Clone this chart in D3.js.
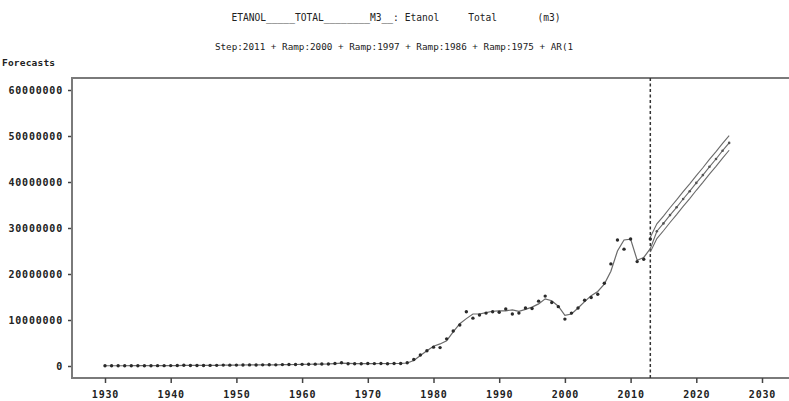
<!DOCTYPE html>
<html>
<head>
<meta charset="utf-8">
<script src="https://cdn.jsdelivr.net/npm/d3@7"></script>
<style>
  html, body { margin: 0; padding: 0; background: #fff; }
  svg { display: block; }
  text { font-family: "DejaVu Sans Mono", "Liberation Mono", monospace; fill: #222; white-space: pre; }
</style>
</head>
<body>
<svg id="chart" width="789" height="401"></svg>
<script>
// ---------- data (values in m3) ----------
const titleText = "ETANOL_____TOTAL________M3__: Etanol     Total       (m3)";
const subtitleText = "Step:2011 + Ramp:2000 + Ramp:1997 + Ramp:1986 + Ramp:1975 + AR(1";
const yAxisLabel = "Forecasts";

const years = d3.range(1930, 2014);
const actualM = [
  0.05,0.05,0.05,0.05,0.06,0.06,0.07,0.07,0.08,0.08,
  0.09,0.10,0.15,0.11,0.12,0.12,0.13,0.14,0.20,0.18,
  0.20,0.22,0.24,0.22,0.25,0.27,0.25,0.30,0.32,0.33,
  0.36,0.38,0.40,0.42,0.45,0.55,0.70,0.50,0.48,0.50,
  0.55,0.52,0.55,0.50,0.55,0.55,0.70,1.40,2.40,3.30,
  4.10,4.00,5.90,7.60,8.90,11.80,10.40,11.10,11.50,11.80,
  11.70,12.40,11.30,11.50,12.60,12.50,14.10,15.20,13.80,12.90,
  10.20,11.50,12.60,14.30,14.90,15.60,18.00,22.20,27.40,25.40,
  27.60,22.70,23.20,27.60
];
const fittedM = [
  0.05,0.05,0.05,0.05,0.06,0.06,0.07,0.07,0.08,0.08,
  0.09,0.10,0.12,0.12,0.12,0.12,0.13,0.14,0.17,0.18,
  0.20,0.22,0.23,0.23,0.25,0.26,0.26,0.29,0.31,0.33,
  0.36,0.38,0.40,0.42,0.45,0.52,0.62,0.55,0.50,0.50,
  0.53,0.53,0.54,0.52,0.54,0.55,0.65,1.20,2.30,3.30,
  4.30,4.80,5.50,7.40,9.20,10.30,11.30,11.30,11.60,11.90,
  12.00,12.00,12.20,11.90,12.30,12.80,13.50,14.60,14.20,13.00,
  11.00,11.30,12.60,14.00,15.30,16.20,17.80,20.60,25.00,27.40,
  27.60,23.00,23.60,25.50
];

const fcYears = d3.range(2013, 2026);
const fcMidM   = [25.5,29.3,31.0,32.8,34.5,36.3,38.0,39.8,41.5,43.3,45.0,46.8,48.5];
const fcUpperM = [28.0,30.9,32.6,34.4,36.1,37.9,39.6,41.4,43.1,44.9,46.6,48.4,50.1];
const fcLowerM = [24.8,27.7,29.4,31.2,32.9,34.7,36.4,38.2,39.9,41.7,43.4,45.2,46.9];

const xTicks = d3.range(1930, 2031, 10);
const yTicks = [0, 10000000, 20000000, 30000000, 40000000, 50000000, 60000000];
const forecastStartYear = 2013;

// ---------- build ----------
const M = 1e6;
const hist = years.map((y, i) => ({ year: y, actual: actualM[i] * M, fit: fittedM[i] * M }));
const fc = fcYears.map((y, i) => ({ year: y, mid: fcMidM[i] * M, up: fcUpperM[i] * M, lo: fcLowerM[i] * M }));

const svg = d3.select("#chart");
const frame = { left: 72, right: 789, top: 78, bottom: 378 };

const x = d3.scaleLinear().domain([1930, 2030]).range([105, 762]);
const y = d3.scaleLinear().domain([0, 60000000]).range([366, 90]);

// titles
svg.append("text").attr("x", 396).attr("y", 21).attr("text-anchor", "middle")
  .attr("xml:space", "preserve")
  .style("font-size", "9.6px").text(titleText);
svg.append("text").attr("x", 394).attr("y", 50).attr("text-anchor", "middle")
  .attr("xml:space", "preserve")
  .style("font-size", "9.3px").text(subtitleText);
svg.append("text").attr("x", 2).attr("y", 66)
  .style("font-size", "9.5px").style("font-weight", "bold").style("letter-spacing", "0.2px").text(yAxisLabel);

// frame
const frameColor = "#7a7a7a";
svg.append("line").attr("x1", frame.left).attr("x2", frame.right).attr("y1", frame.top).attr("y2", frame.top)
  .attr("stroke", frameColor).attr("stroke-width", 2);
svg.append("line").attr("x1", frame.left).attr("x2", frame.right).attr("y1", frame.bottom).attr("y2", frame.bottom)
  .attr("stroke", frameColor).attr("stroke-width", 2);
svg.append("line").attr("x1", frame.left).attr("x2", frame.left).attr("y1", frame.top - 1).attr("y2", frame.bottom + 1)
  .attr("stroke", frameColor).attr("stroke-width", 2);

// y axis ticks + labels
const yAxis = d3.axisLeft(y).tickValues(yTicks).tickSize(3).tickPadding(5).tickFormat(d3.format("d"));
const gy = svg.append("g").attr("transform", `translate(${frame.left - 1},0)`).call(yAxis);
gy.select(".domain").remove();
gy.selectAll(".tick line").attr("stroke", "#444").attr("stroke-width", 1.5);
gy.selectAll(".tick text").style("font-size", "10px").style("font-weight", "bold")
  .style("letter-spacing", "0.8px").attr("fill", "#222").attr("font-family", "DejaVu Sans Mono");

// x axis ticks + labels
const xAxis = d3.axisBottom(x).tickValues(xTicks).tickSize(5).tickPadding(8).tickFormat(d3.format("d"));
const gx = svg.append("g").attr("transform", `translate(0,${frame.bottom})`).call(xAxis);
gx.select(".domain").remove();
gx.selectAll(".tick line").attr("stroke", "#444").attr("stroke-width", 1.5);
gx.selectAll(".tick text").style("font-size", "10px").style("font-weight", "bold")
  .style("letter-spacing", "0.8px").attr("fill", "#222").attr("font-family", "DejaVu Sans Mono");

// forecast start reference line
svg.append("line").attr("x1", x(forecastStartYear)).attr("x2", x(forecastStartYear))
  .attr("y1", frame.top).attr("y2", frame.bottom)
  .attr("stroke", "#333").attr("stroke-width", 1.5).attr("stroke-dasharray", "3,2.5");

const lineColor = "#6a6a6a";
// fitted line
svg.append("path").datum(hist)
  .attr("d", d3.line().x(d => x(d.year)).y(d => y(d.fit)))
  .attr("fill", "none").attr("stroke", lineColor).attr("stroke-width", 1.2);

// forecast bands and mid
["up", "mid", "lo"].forEach(k => {
  svg.append("path").datum(fc)
    .attr("d", d3.line().x(d => x(d.year)).y(d => y(d[k])))
    .attr("fill", "none").attr("stroke", lineColor).attr("stroke-width", 1.1);
});

// actual points
const dotColor = "#2a2a2a";
svg.append("g").selectAll("circle").data(hist).join("circle")
  .attr("cx", d => x(d.year)).attr("cy", d => y(d.actual)).attr("r", 1.7)
  .attr("fill", dotColor);

// forecast points
svg.append("g").selectAll("circle").data(fc.slice(1)).join("circle")
  .attr("cx", d => x(d.year)).attr("cy", d => y(d.mid)).attr("r", 1.3)
  .attr("fill", "#555");
</script>
</body>
</html>
